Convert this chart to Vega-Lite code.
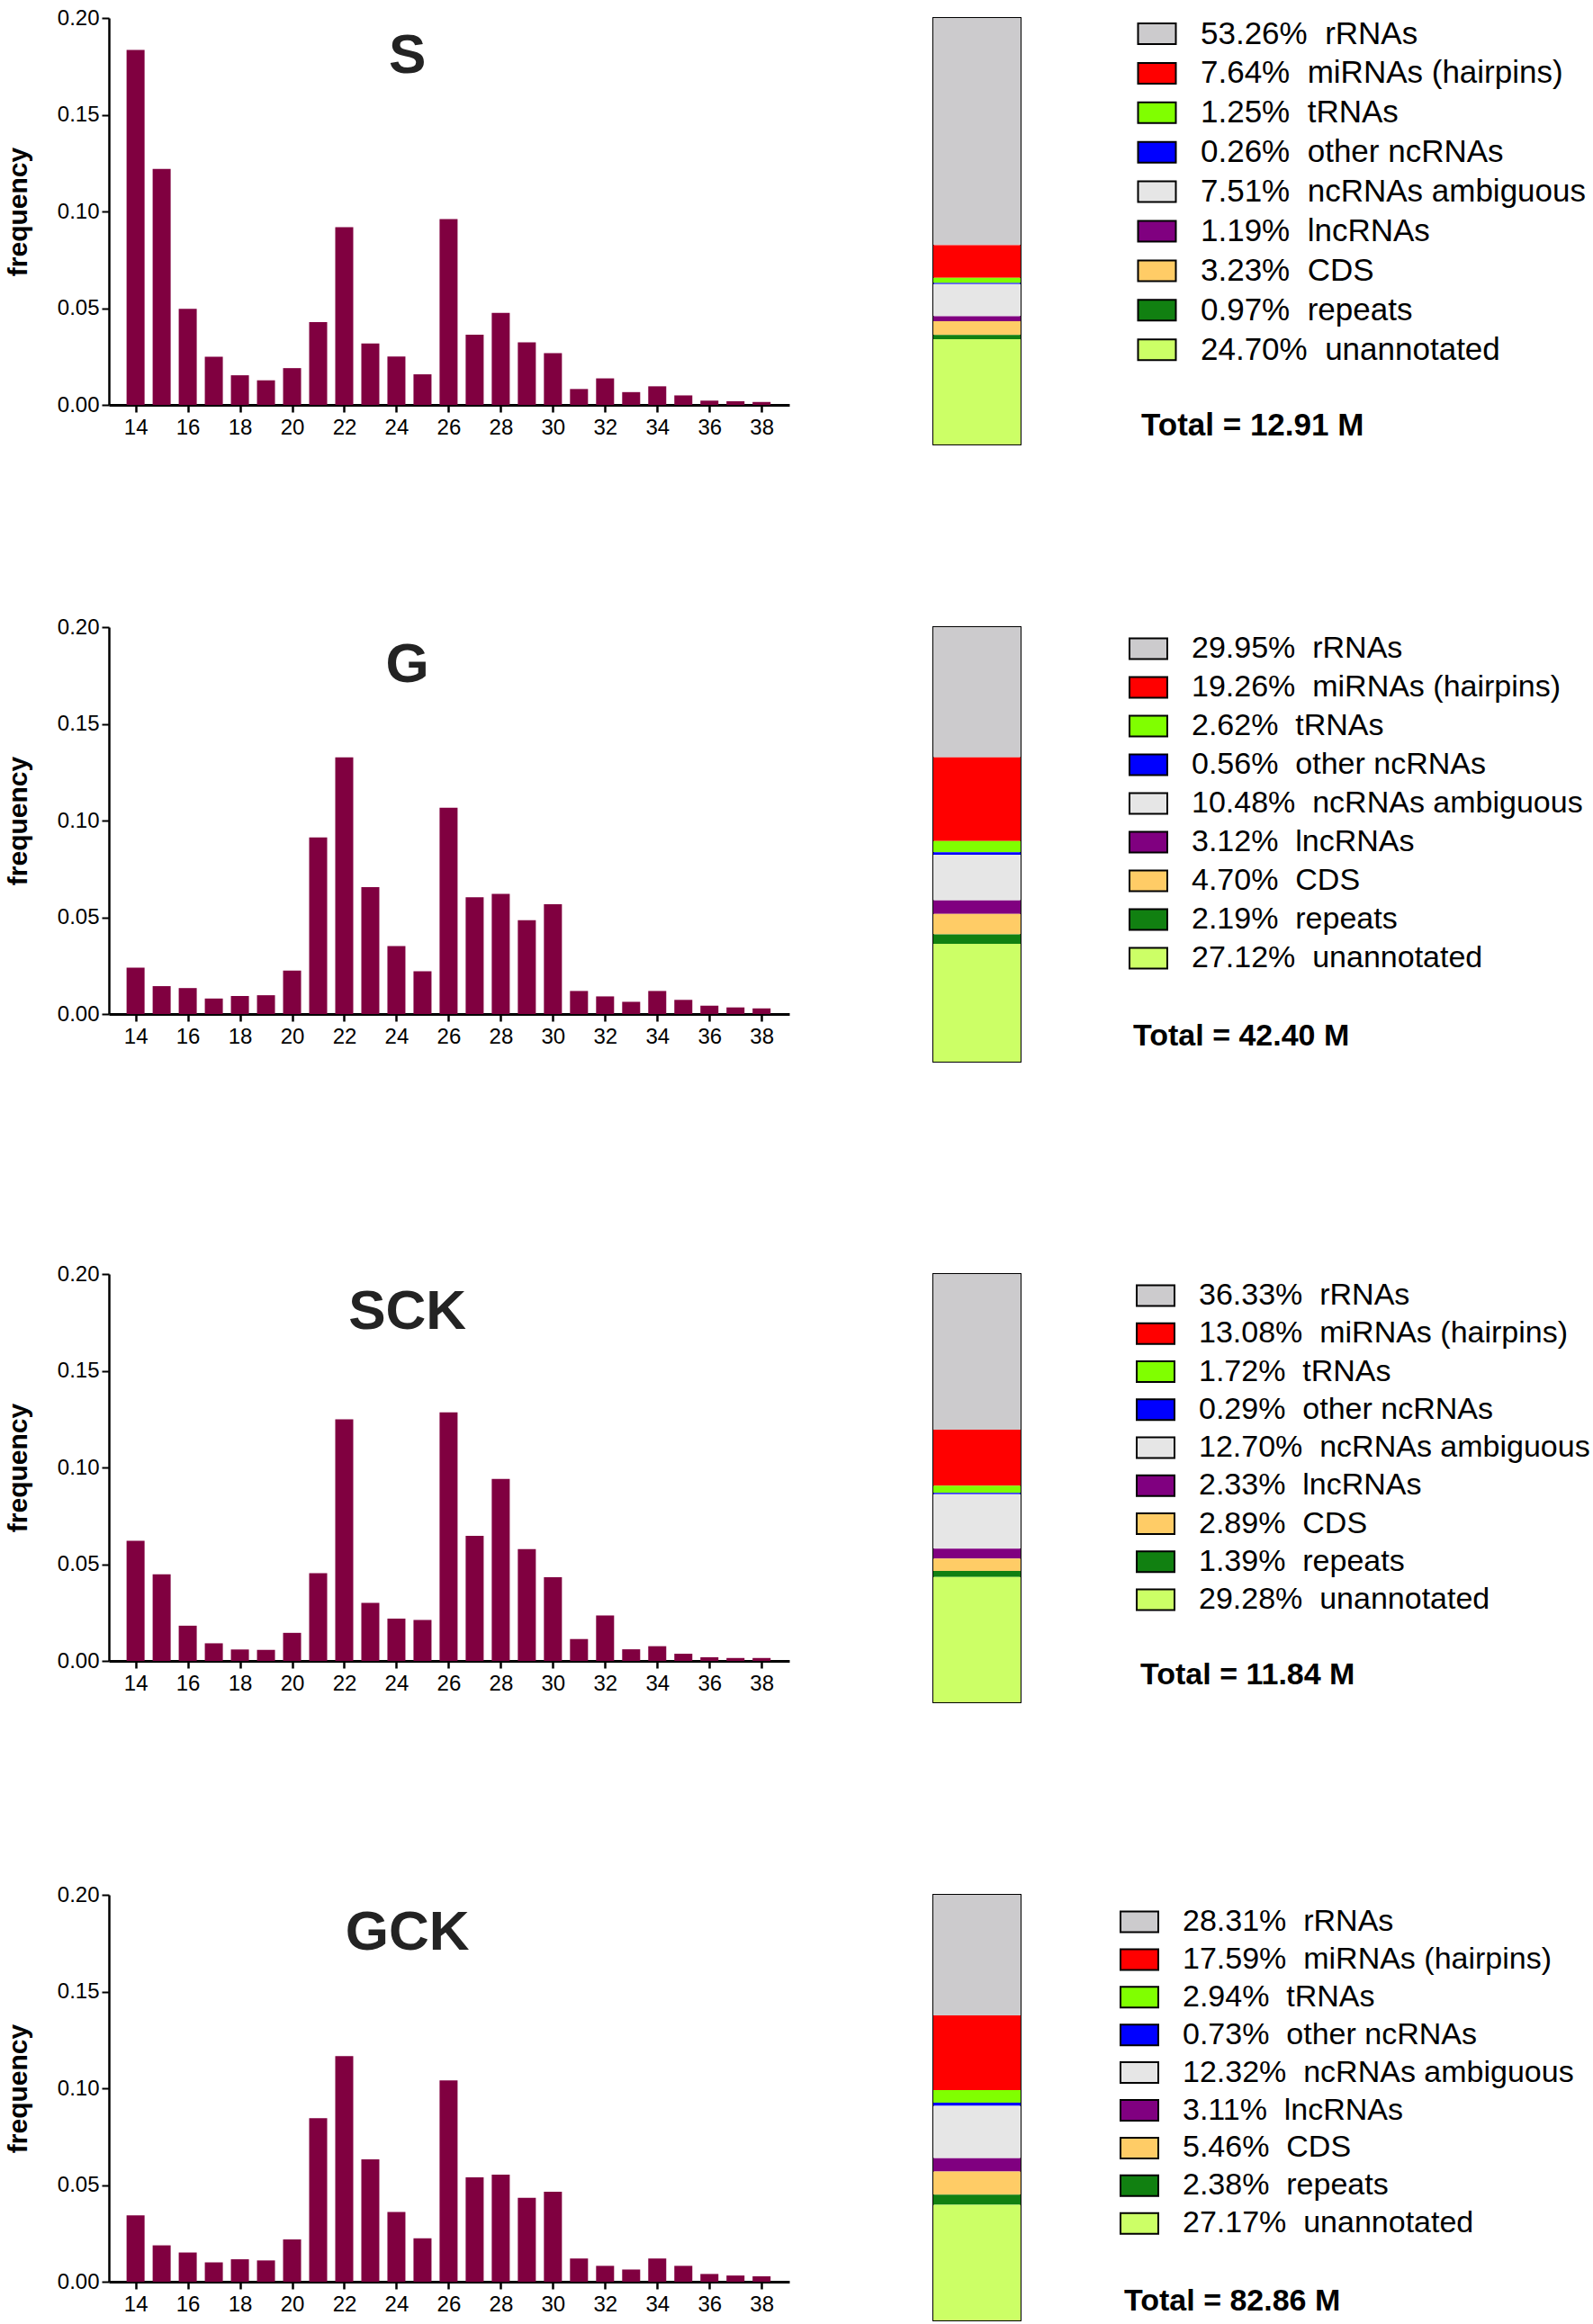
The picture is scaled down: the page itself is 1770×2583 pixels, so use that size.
{
  "$schema": "https://vega.github.io/schema/vega-lite/v6.json",
  "background": "white",
  "padding": {"left": 5, "top": 8, "right": 0, "bottom": 0},
  "config": {
    "font": "Liberation Sans",
    "view": {"stroke": null},
    "axis": {
      "labelFont": "Liberation Sans",
      "labelFontSize": 24,
      "labelColor": "black",
      "domainColor": "black",
      "tickColor": "black",
      "grid": false,
      "titleFont": "Liberation Sans",
      "titleFontSize": 30,
      "titleFontWeight": "bold",
      "titleColor": "black"
    },
    "axisX": {"domainWidth": 3, "tickWidth": 2.5, "tickSize": 8, "labelPadding": 5},
    "axisY": {"domainWidth": 2.5, "tickWidth": 2, "tickSize": 8, "labelPadding": 3, "titlePadding": 28},
    "legend": {
      "symbolType": "M-1.3125,-0.72H1.3125V0.72H-1.3125Z",
      "symbolSize": 1024,
      "symbolStrokeColor": "black",
      "symbolStrokeWidth": 2,
      "symbolOpacity": 1,
      "labelFont": "Liberation Sans",
      "labelFontSize": 35,
      "labelColor": "black",
      "labelLimit": 600,
      "labelOffset": 31,
      "titleFont": "Liberation Sans",
      "titleFontSize": 35,
      "titleFontWeight": "bold",
      "titleColor": "black",
      "titleOrient": "bottom",
      "titleAnchor": "start",
      "titleLimit": 600
    },
    "text": {"font": "Liberation Sans", "fontSize": 62, "fontWeight": "bold", "color": "#232323", "align": "center", "baseline": "middle"},
    "range": {
      "category": ["#cccbcd", "#ff0000", "#80ff00", "#0000ff", "#e6e6e6", "#800080", "#ffcc66", "#118011", "#ccff66"]
    }
  },
  "datasets": {
    "lengths": [
      {"lib": "S", "len": 14, "freq": 0.1835}, {"lib": "S", "len": 15, "freq": 0.122}, {"lib": "S", "len": 16, "freq": 0.0497},
      {"lib": "S", "len": 17, "freq": 0.0249}, {"lib": "S", "len": 18, "freq": 0.0153}, {"lib": "S", "len": 19, "freq": 0.0127},
      {"lib": "S", "len": 20, "freq": 0.019}, {"lib": "S", "len": 21, "freq": 0.0428}, {"lib": "S", "len": 22, "freq": 0.0919},
      {"lib": "S", "len": 23, "freq": 0.0317}, {"lib": "S", "len": 24, "freq": 0.025}, {"lib": "S", "len": 25, "freq": 0.0158},
      {"lib": "S", "len": 26, "freq": 0.0961}, {"lib": "S", "len": 27, "freq": 0.0363}, {"lib": "S", "len": 28, "freq": 0.0476},
      {"lib": "S", "len": 29, "freq": 0.0323}, {"lib": "S", "len": 30, "freq": 0.0267}, {"lib": "S", "len": 31, "freq": 0.0082},
      {"lib": "S", "len": 32, "freq": 0.0137}, {"lib": "S", "len": 33, "freq": 0.0066}, {"lib": "S", "len": 34, "freq": 0.0096},
      {"lib": "S", "len": 35, "freq": 0.0049}, {"lib": "S", "len": 36, "freq": 0.0022}, {"lib": "S", "len": 37, "freq": 0.0019},
      {"lib": "S", "len": 38, "freq": 0.0015},
      {"lib": "G", "len": 14, "freq": 0.0239}, {"lib": "G", "len": 15, "freq": 0.0144}, {"lib": "G", "len": 16, "freq": 0.0134},
      {"lib": "G", "len": 17, "freq": 0.008}, {"lib": "G", "len": 18, "freq": 0.0093}, {"lib": "G", "len": 19, "freq": 0.0097},
      {"lib": "G", "len": 20, "freq": 0.0224}, {"lib": "G", "len": 21, "freq": 0.0913}, {"lib": "G", "len": 22, "freq": 0.1327},
      {"lib": "G", "len": 23, "freq": 0.0656}, {"lib": "G", "len": 24, "freq": 0.0351}, {"lib": "G", "len": 25, "freq": 0.0221},
      {"lib": "G", "len": 26, "freq": 0.1066}, {"lib": "G", "len": 27, "freq": 0.0604}, {"lib": "G", "len": 28, "freq": 0.0621},
      {"lib": "G", "len": 29, "freq": 0.0485}, {"lib": "G", "len": 30, "freq": 0.0568}, {"lib": "G", "len": 31, "freq": 0.0119},
      {"lib": "G", "len": 32, "freq": 0.0091}, {"lib": "G", "len": 33, "freq": 0.0063}, {"lib": "G", "len": 34, "freq": 0.0119},
      {"lib": "G", "len": 35, "freq": 0.0073}, {"lib": "G", "len": 36, "freq": 0.0043}, {"lib": "G", "len": 37, "freq": 0.0034},
      {"lib": "G", "len": 38, "freq": 0.0029},
      {"lib": "SCK", "len": 14, "freq": 0.0621}, {"lib": "SCK", "len": 15, "freq": 0.0448}, {"lib": "SCK", "len": 16, "freq": 0.0182},
      {"lib": "SCK", "len": 17, "freq": 0.0091}, {"lib": "SCK", "len": 18, "freq": 0.0059}, {"lib": "SCK", "len": 19, "freq": 0.0057},
      {"lib": "SCK", "len": 20, "freq": 0.0145}, {"lib": "SCK", "len": 21, "freq": 0.0453}, {"lib": "SCK", "len": 22, "freq": 0.1249},
      {"lib": "SCK", "len": 23, "freq": 0.03}, {"lib": "SCK", "len": 24, "freq": 0.0219}, {"lib": "SCK", "len": 25, "freq": 0.0212},
      {"lib": "SCK", "len": 26, "freq": 0.1285}, {"lib": "SCK", "len": 27, "freq": 0.0647}, {"lib": "SCK", "len": 28, "freq": 0.0941},
      {"lib": "SCK", "len": 29, "freq": 0.0578}, {"lib": "SCK", "len": 30, "freq": 0.0432}, {"lib": "SCK", "len": 31, "freq": 0.0113},
      {"lib": "SCK", "len": 32, "freq": 0.0235}, {"lib": "SCK", "len": 33, "freq": 0.006}, {"lib": "SCK", "len": 34, "freq": 0.0076},
      {"lib": "SCK", "len": 35, "freq": 0.0037}, {"lib": "SCK", "len": 36, "freq": 0.0019}, {"lib": "SCK", "len": 37, "freq": 0.0015},
      {"lib": "SCK", "len": 38, "freq": 0.0015},
      {"lib": "GCK", "len": 14, "freq": 0.0343}, {"lib": "GCK", "len": 15, "freq": 0.0188}, {"lib": "GCK", "len": 16, "freq": 0.0151},
      {"lib": "GCK", "len": 17, "freq": 0.01}, {"lib": "GCK", "len": 18, "freq": 0.0116}, {"lib": "GCK", "len": 19, "freq": 0.011},
      {"lib": "GCK", "len": 20, "freq": 0.0219}, {"lib": "GCK", "len": 21, "freq": 0.0845}, {"lib": "GCK", "len": 22, "freq": 0.1166},
      {"lib": "GCK", "len": 23, "freq": 0.0633}, {"lib": "GCK", "len": 24, "freq": 0.036}, {"lib": "GCK", "len": 25, "freq": 0.0225},
      {"lib": "GCK", "len": 26, "freq": 0.1041}, {"lib": "GCK", "len": 27, "freq": 0.0539}, {"lib": "GCK", "len": 28, "freq": 0.0553},
      {"lib": "GCK", "len": 29, "freq": 0.0434}, {"lib": "GCK", "len": 30, "freq": 0.0465}, {"lib": "GCK", "len": 31, "freq": 0.012},
      {"lib": "GCK", "len": 32, "freq": 0.0082}, {"lib": "GCK", "len": 33, "freq": 0.0063}, {"lib": "GCK", "len": 34, "freq": 0.012},
      {"lib": "GCK", "len": 35, "freq": 0.0082}, {"lib": "GCK", "len": 36, "freq": 0.004}, {"lib": "GCK", "len": 37, "freq": 0.0032},
      {"lib": "GCK", "len": 38, "freq": 0.0028}
    ],
    "classes": [
      {"lib": "S", "ord": 1, "pct": 53.26, "label": "53.26%\u00a0 rRNAs"},
      {"lib": "S", "ord": 2, "pct": 7.64, "label": "7.64%\u00a0 miRNAs (hairpins)"},
      {"lib": "S", "ord": 3, "pct": 1.25, "label": "1.25%\u00a0 tRNAs"},
      {"lib": "S", "ord": 4, "pct": 0.26, "label": "0.26%\u00a0 other ncRNAs"},
      {"lib": "S", "ord": 5, "pct": 7.51, "label": "7.51%\u00a0 ncRNAs ambiguous"},
      {"lib": "S", "ord": 6, "pct": 1.19, "label": "1.19%\u00a0 lncRNAs"},
      {"lib": "S", "ord": 7, "pct": 3.23, "label": "3.23%\u00a0 CDS"},
      {"lib": "S", "ord": 8, "pct": 0.97, "label": "0.97%\u00a0 repeats"},
      {"lib": "S", "ord": 9, "pct": 24.70, "label": "24.70%\u00a0 unannotated"},
      {"lib": "G", "ord": 1, "pct": 29.95, "label": "29.95%\u00a0 rRNAs"},
      {"lib": "G", "ord": 2, "pct": 19.26, "label": "19.26%\u00a0 miRNAs (hairpins)"},
      {"lib": "G", "ord": 3, "pct": 2.62, "label": "2.62%\u00a0 tRNAs"},
      {"lib": "G", "ord": 4, "pct": 0.56, "label": "0.56%\u00a0 other ncRNAs"},
      {"lib": "G", "ord": 5, "pct": 10.48, "label": "10.48%\u00a0 ncRNAs ambiguous"},
      {"lib": "G", "ord": 6, "pct": 3.12, "label": "3.12%\u00a0 lncRNAs"},
      {"lib": "G", "ord": 7, "pct": 4.70, "label": "4.70%\u00a0 CDS"},
      {"lib": "G", "ord": 8, "pct": 2.19, "label": "2.19%\u00a0 repeats"},
      {"lib": "G", "ord": 9, "pct": 27.12, "label": "27.12%\u00a0 unannotated"},
      {"lib": "SCK", "ord": 1, "pct": 36.33, "label": "36.33%\u00a0 rRNAs"},
      {"lib": "SCK", "ord": 2, "pct": 13.08, "label": "13.08%\u00a0 miRNAs (hairpins)"},
      {"lib": "SCK", "ord": 3, "pct": 1.72, "label": "1.72%\u00a0 tRNAs"},
      {"lib": "SCK", "ord": 4, "pct": 0.29, "label": "0.29%\u00a0 other ncRNAs"},
      {"lib": "SCK", "ord": 5, "pct": 12.70, "label": "12.70%\u00a0 ncRNAs ambiguous"},
      {"lib": "SCK", "ord": 6, "pct": 2.33, "label": "2.33%\u00a0 lncRNAs"},
      {"lib": "SCK", "ord": 7, "pct": 2.89, "label": "2.89%\u00a0 CDS"},
      {"lib": "SCK", "ord": 8, "pct": 1.39, "label": "1.39%\u00a0 repeats"},
      {"lib": "SCK", "ord": 9, "pct": 29.28, "label": "29.28%\u00a0 unannotated"},
      {"lib": "GCK", "ord": 1, "pct": 28.31, "label": "28.31%\u00a0 rRNAs"},
      {"lib": "GCK", "ord": 2, "pct": 17.59, "label": "17.59%\u00a0 miRNAs (hairpins)"},
      {"lib": "GCK", "ord": 3, "pct": 2.94, "label": "2.94%\u00a0 tRNAs"},
      {"lib": "GCK", "ord": 4, "pct": 0.73, "label": "0.73%\u00a0 other ncRNAs"},
      {"lib": "GCK", "ord": 5, "pct": 12.32, "label": "12.32%\u00a0 ncRNAs ambiguous"},
      {"lib": "GCK", "ord": 6, "pct": 3.11, "label": "3.11%\u00a0 lncRNAs"},
      {"lib": "GCK", "ord": 7, "pct": 5.46, "label": "5.46%\u00a0 CDS"},
      {"lib": "GCK", "ord": 8, "pct": 2.38, "label": "2.38%\u00a0 repeats"},
      {"lib": "GCK", "ord": 9, "pct": 27.17, "label": "27.17%\u00a0 unannotated"}
    ]
  },
  "spacing": 190,
  "resolve": {"scale": {"color": "independent"}, "legend": {"color": "independent"}},
  "vconcat": [
    {
      "bounds": "flush",
      "spacing": 160,
      "resolve": {"scale": {"color": "independent"}, "legend": {"color": "independent"}},
      "hconcat": [
        {
          "width": 756, "height": 430,
          "layer": [
            {
              "data": {"name": "lengths"},
              "transform": [{"filter": "datum.lib == 'S'"}],
              "mark": {"type": "bar", "width": 20, "color": "#800040"},
              "encoding": {
                "x": {"field": "len", "type": "quantitative", "scale": {"domain": [13.15, 38.89], "nice": false, "zero": false}, "axis": {"values": [14, 16, 18, 20, 22, 24, 26, 28, 30, 32, 34, 36, 38], "title": null}},
                "y": {"field": "freq", "type": "quantitative", "scale": {"domain": [0, 0.2], "nice": false}, "axis": {"values": [0, 0.05, 0.1, 0.15, 0.2], "format": ".2f", "title": "frequency"}}
              }
            },
            {
              "data": {"values": [{"name": "S"}]},
              "mark": "text",
              "encoding": {
                "text": {"field": "name"},
                "x": {"datum": 24.42, "type": "quantitative"},
                "y": {"datum": 0.1805, "type": "quantitative"}
              }
            }
          ]
        },
        {
          "data": {"name": "classes"},
          "transform": [{"filter": "datum.lib == 'S'"}],
          "width": 97, "height": 474,
          "view": {"stroke": "black", "strokeWidth": 2},
          "mark": "bar",
          "encoding": {
            "x": {"field": "lib", "type": "nominal", "axis": null, "scale": {"paddingInner": 0, "paddingOuter": 0}},
            "y": {"field": "pct", "type": "quantitative", "stack": "zero", "axis": null, "scale": {"reverse": true, "nice": false}},
            "order": {"field": "ord"},
            "color": {
              "field": "label", "type": "nominal", "sort": {"field": "ord", "op": "min"},
              "legend": {"title": "Total = 12.91 M", "offset": 134, "padding": 0, "rowPadding": 7.9, "titlePadding": 49}
            }
          }
        }
      ]
    },
    {
      "bounds": "flush",
      "spacing": 160,
      "resolve": {"scale": {"color": "independent"}, "legend": {"color": "independent"}},
      "hconcat": [
        {
          "width": 756, "height": 430,
          "layer": [
            {
              "data": {"name": "lengths"},
              "transform": [{"filter": "datum.lib == 'G'"}],
              "mark": {"type": "bar", "width": 20, "color": "#800040"},
              "encoding": {
                "x": {"field": "len", "type": "quantitative", "scale": {"domain": [13.15, 38.89], "nice": false, "zero": false}, "axis": {"values": [14, 16, 18, 20, 22, 24, 26, 28, 30, 32, 34, 36, 38], "title": null}},
                "y": {"field": "freq", "type": "quantitative", "scale": {"domain": [0, 0.2], "nice": false}, "axis": {"values": [0, 0.05, 0.1, 0.15, 0.2], "format": ".2f", "title": "frequency"}}
              }
            },
            {
              "data": {"values": [{"name": "G"}]},
              "mark": "text",
              "encoding": {
                "text": {"field": "name"},
                "x": {"datum": 24.42, "type": "quantitative"},
                "y": {"datum": 0.1805, "type": "quantitative"}
              }
            }
          ]
        },
        {
          "data": {"name": "classes"},
          "transform": [{"filter": "datum.lib == 'G'"}],
          "width": 97, "height": 483,
          "view": {"stroke": "black", "strokeWidth": 2},
          "mark": "bar",
          "encoding": {
            "x": {"field": "lib", "type": "nominal", "axis": null, "scale": {"paddingInner": 0, "paddingOuter": 0}},
            "y": {"field": "pct", "type": "quantitative", "stack": "zero", "axis": null, "scale": {"reverse": true, "nice": false}},
            "order": {"field": "ord"},
            "color": {
              "field": "label", "type": "nominal", "sort": {"field": "ord", "op": "min"},
              "legend": {"title": ["Total = 42.40 M", ""], "titleLineHeight": 37, "labelFontSize": 34, "titleFontSize": 34, "offset": 118, "padding": 7, "rowPadding": 9, "titlePadding": 53}
            }
          }
        }
      ]
    },
    {
      "bounds": "flush",
      "spacing": 160,
      "resolve": {"scale": {"color": "independent"}, "legend": {"color": "independent"}},
      "hconcat": [
        {
          "width": 756, "height": 430,
          "layer": [
            {
              "data": {"name": "lengths"},
              "transform": [{"filter": "datum.lib == 'SCK'"}],
              "mark": {"type": "bar", "width": 20, "color": "#800040"},
              "encoding": {
                "x": {"field": "len", "type": "quantitative", "scale": {"domain": [13.15, 38.89], "nice": false, "zero": false}, "axis": {"values": [14, 16, 18, 20, 22, 24, 26, 28, 30, 32, 34, 36, 38], "title": null}},
                "y": {"field": "freq", "type": "quantitative", "scale": {"domain": [0, 0.2], "nice": false}, "axis": {"values": [0, 0.05, 0.1, 0.15, 0.2], "format": ".2f", "title": "frequency"}}
              }
            },
            {
              "data": {"values": [{"name": "SCK"}]},
              "mark": "text",
              "encoding": {
                "text": {"field": "name"},
                "x": {"datum": 24.42, "type": "quantitative"},
                "y": {"datum": 0.1805, "type": "quantitative"}
              }
            }
          ]
        },
        {
          "data": {"name": "classes"},
          "transform": [{"filter": "datum.lib == 'SCK'"}],
          "width": 97, "height": 476,
          "view": {"stroke": "black", "strokeWidth": 2},
          "mark": "bar",
          "encoding": {
            "x": {"field": "lib", "type": "nominal", "axis": null, "scale": {"paddingInner": 0, "paddingOuter": 0}},
            "y": {"field": "pct", "type": "quantitative", "stack": "zero", "axis": null, "scale": {"reverse": true, "nice": false}},
            "order": {"field": "ord"},
            "color": {
              "field": "label", "type": "nominal", "sort": {"field": "ord", "op": "min"},
              "legend": {"title": ["Total = 11.84 M", ""], "titleLineHeight": 17, "labelFontSize": 34, "titleFontSize": 34, "offset": 126, "padding": 7, "rowPadding": 8.25, "titlePadding": 49.5}
            }
          }
        }
      ]
    },
    {
      "bounds": "flush",
      "spacing": 160,
      "resolve": {"scale": {"color": "independent"}, "legend": {"color": "independent"}},
      "hconcat": [
        {
          "width": 756, "height": 430,
          "layer": [
            {
              "data": {"name": "lengths"},
              "transform": [{"filter": "datum.lib == 'GCK'"}],
              "mark": {"type": "bar", "width": 20, "color": "#800040"},
              "encoding": {
                "x": {"field": "len", "type": "quantitative", "scale": {"domain": [13.15, 38.89], "nice": false, "zero": false}, "axis": {"values": [14, 16, 18, 20, 22, 24, 26, 28, 30, 32, 34, 36, 38], "title": null}},
                "y": {"field": "freq", "type": "quantitative", "scale": {"domain": [0, 0.2], "nice": false}, "axis": {"values": [0, 0.05, 0.1, 0.15, 0.2], "format": ".2f", "title": "frequency"}}
              }
            },
            {
              "data": {"values": [{"name": "GCK"}]},
              "mark": "text",
              "encoding": {
                "text": {"field": "name"},
                "x": {"datum": 24.42, "type": "quantitative"},
                "y": {"datum": 0.1805, "type": "quantitative"}
              }
            }
          ]
        },
        {
          "data": {"name": "classes"},
          "transform": [{"filter": "datum.lib == 'GCK'"}],
          "width": 97, "height": 473,
          "view": {"stroke": "black", "strokeWidth": 2},
          "mark": "bar",
          "encoding": {
            "x": {"field": "lib", "type": "nominal", "axis": null, "scale": {"paddingInner": 0, "paddingOuter": 0}},
            "y": {"field": "pct", "type": "quantitative", "stack": "zero", "axis": null, "scale": {"reverse": true, "nice": false}},
            "order": {"field": "ord"},
            "color": {
              "field": "label", "type": "nominal", "sort": {"field": "ord", "op": "min"},
              "legend": {"title": "Total = 82.86 M", "labelFontSize": 34, "titleFontSize": 34, "offset": 102, "padding": 13, "rowPadding": 7.9, "titlePadding": 52.5}
            }
          }
        }
      ]
    }
  ]
}
